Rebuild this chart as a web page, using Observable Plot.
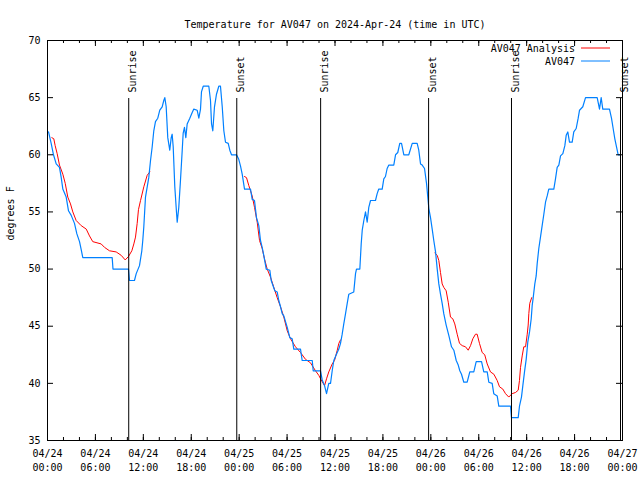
<!DOCTYPE html>
<html>
<head>
<meta charset="utf-8">
<script src="https://cdn.jsdelivr.net/npm/d3@7"></script>
<script src="https://cdn.jsdelivr.net/npm/@observablehq/plot@0.6"></script>
<style>
  body { margin: 0; background: #fff; }
</style>
</head>
<body>
<div id="chart"></div>
<script>
const title = "Temperature for AV047 on 2024-Apr-24 (time in UTC)";
const yLabel = "degrees F";
const startISO = "2024-04-24T00:00:00Z";
const spanHours = 72;
const yTicks = [35, 40, 45, 50, 55, 60, 65, 70];
const xMajorStepHours = 6;
const xMinorStepHours = 2;
const seriesNames = ["AV047 Analysis", "AV047"];
const seriesColors = ["#ff0000", "#0080ff"];

// Sun events: [hours after start, label]
const sunEvents = [
  [10.17, "Sunrise"], [23.70, "Sunset"],
  [34.20, "Sunrise"], [47.72, "Sunset"],
  [58.10, "Sunrise"], [71.75, "Sunset"]
];

// AV047 observations: [hours after start, °F]
const obs = [
  [0.13,62],[0.46,61],[0.75,60],[1.09,59.2],[1.50,58.9],[1.72,58],[1.92,57],[2.34,56.3],[2.63,55.1],[2.97,54.7],
  [3.38,54],[3.67,53.1],[4.01,52.4],[4.22,51.7],[4.42,51],[8.10,51],[8.20,50],[10.14,50],[10.27,49],[10.89,49],
  [11.11,49.6],[11.52,50.3],[11.81,51.6],[11.93,52.5],[12.06,53.7],[12.27,56.3],[12.68,58],[12.90,59.5],[13.11,60.7],[13.31,62.1],
  [13.52,62.9],[13.81,63.2],[14.06,63.9],[14.36,64.2],[14.56,64.75],[14.69,65],[14.86,64.2],[15.06,61.5],[15.31,60.4],[15.49,61.5],
  [15.61,61.8],[15.74,60.7],[15.94,57.2],[16.15,55],[16.24,54.1],[16.44,55.4],[16.65,57.75],[16.87,60.4],[16.99,61.9],[17.15,62.4],
  [17.32,61.5],[17.49,62.7],[17.82,63.2],[18.12,63.7],[18.32,64],[18.74,63.9],[18.95,63.2],[19.16,64],[19.28,65.5],[19.50,66],
  [20.20,66],[20.41,64.75],[20.54,62.7],[20.70,62.1],[20.91,64.2],[21.16,65.3],[21.45,66],[21.66,66],[21.88,64.2],[22.08,62.1],
  [22.29,61.1],[22.63,61],[22.83,60.4],[23.04,60],[23.67,60],[23.95,59.6],[24.17,59],[24.38,58.3],[24.67,57],[25.42,57],
  [25.63,56.1],[25.92,56],[26.17,54.5],[26.46,53.8],[26.67,52.5],[26.88,51.9],[27.08,51.2],[27.39,50],[27.84,49.9],[28.01,49],
  [28.46,48.1],[28.76,48],[28.96,47.25],[29.18,46.7],[29.39,46.1],[29.59,45.9],[30.02,44.9],[30.34,44],[30.64,43.9],[30.84,43],
  [31.68,43],[31.89,42],[33.15,42],[33.27,41.1],[34.18,41.1],[34.40,40.3],[34.69,39.8],[34.94,39.1],[35.22,40],[35.44,40],
  [35.65,41.1],[35.85,42],[36.28,42.7],[36.48,43],[36.69,43.5],[36.90,44.3],[37.10,45.2],[37.32,46.1],[37.53,47],[37.73,47.8],
  [38.35,48],[38.57,49.6],[38.69,50],[39.11,50],[39.28,52.2],[39.41,53.4],[39.61,54.25],[39.82,55],[40.03,54.1],[40.23,55.4],
  [40.45,56],[41.07,56],[41.28,56.6],[41.48,57],[41.91,57],[42.11,57.9],[42.32,58.1],[42.53,58.8],[42.74,59.1],[43.36,59.1],
  [43.58,60],[43.86,60.2],[44.11,61],[44.33,61],[44.62,60],[45.24,60],[45.67,61],[46.29,61],[46.49,60.4],[46.71,59.2],
  [46.92,59.1],[47.21,58.8],[47.46,57.5],[47.62,56.3],[47.75,55.3],[47.96,54.5],[48.17,53.5],[48.37,52.5],[48.59,51.5],[48.80,50],
  [49.00,48.7],[49.21,47.8],[49.42,47],[49.62,46.1],[49.92,45.1],[50.25,44.2],[50.59,43.2],[50.88,42.9],[51.18,42],[51.43,41.6],
  [51.63,41.1],[51.84,40.8],[52.13,40.1],[52.55,40.1],[52.88,41],[53.38,41],[53.68,41.9],[54.35,41.9],[54.63,41],[55.06,41],
  [55.26,40.1],[55.68,40],[55.88,39.1],[56.31,38.9],[56.51,38],[57.98,38],[58.10,37],[58.94,37],[59.10,38],[59.35,38.8],
  [59.52,39.8],[59.73,41],[59.94,42.1],[60.14,43.6],[60.36,44.5],[60.57,45.65],[60.69,46.8],[60.82,47.5],[61.02,48.7],[61.19,49.4],
  [61.32,50.5],[61.52,51.8],[61.73,52.8],[61.94,53.8],[62.15,54.8],[62.36,55.85],[62.57,56.4],[62.77,57],[63.40,57],[63.61,57.9],
  [63.82,58.9],[64.03,59.1],[64.24,59.9],[64.53,60.1],[64.78,60.8],[64.95,61.7],[65.15,62],[65.36,61.1],[65.70,61.1],[65.90,62],
  [66.20,62.3],[66.45,63.2],[66.62,63.9],[67.03,64.2],[67.37,65],[68.83,65],[69.12,64],[69.33,65],[69.53,64],[70.37,64],
  [70.62,63.2],[70.83,62.3],[71.04,61.4],[71.25,60.7],[71.46,60],[71.75,60]
];

// AV047 Analysis, three separate runs: [hours after start, °F]
const analysisA = [
  [0.54,61.5],[0.79,61.4],[0.96,60.8],[1.21,60.1],[1.50,59.1],[1.92,58.3],[2.22,57.5],[2.54,56.3],[2.88,55.7],[3.17,55],
  [3.59,54.25],[4.22,53.8],[4.85,53.5],[5.26,52.9],[5.67,52.4],[6.72,52.2],[7.14,51.9],[7.76,51.6],[8.60,51.5],[9.23,51.2],
  [9.73,50.8],[10.14,51.1],[10.56,51.6],[10.81,52.2],[11.02,52.8],[11.23,54],[11.39,55.2],[11.65,56],[12.06,57.2],[12.48,58.2],[12.81,58.5]
];
const analysisB = [
  [24.67,58.1],[24.92,58],[25.21,57.3],[25.63,56.4],[25.92,55.4],[26.26,54.1],[26.55,52.5],[26.88,51.8],[27.17,50.9],[27.51,50],
  [27.92,49.3],[28.34,48.4],[28.76,47.5],[29.18,46.7],[29.59,45.8],[30.02,44.6],[30.43,43.9],[31.05,43.2],[31.68,42.7],[32.31,42.1],
  [32.93,41.8],[33.56,41.1],[33.97,40.7],[34.27,40.3],[34.69,39.8],[34.94,40.4],[35.22,41],[35.65,41.7],[35.94,42],[36.28,42.9],
  [36.48,43.5],[36.69,43.8]
];
const analysisC = [
  [48.50,51.4],[48.80,51.2],[49.00,50.75],[49.21,49.7],[49.42,48.7],[49.62,48.4],[49.92,48.1],[50.18,47.1],[50.46,45.8],[50.75,45.65],
  [51.00,45.2],[51.30,44.3],[51.59,43.5],[51.93,43.3],[52.34,43.2],[52.68,42.9],[52.97,43.3],[53.26,43.9],[53.59,44.3],[53.80,44.3],
  [54.09,43.5],[54.43,42.7],[54.75,42.5],[55.06,41.7],[55.47,41],[55.89,40.8],[56.31,40.25],[56.60,39.7],[57.01,39.5],[57.35,39.1],
  [57.76,38.8],[58.18,39.1],[58.60,39.2],[58.94,39.4],[59.10,40.25],[59.23,41.4],[59.44,42.4],[59.64,43.2],[59.86,43.2],[60.07,44.3],
  [60.19,45.1],[60.27,46.1],[60.39,47],[60.63,47.5]
];

const t0 = new Date(startISO).getTime();
const toDate = h => new Date(t0 + h * 3600e3);

const obsData = obs.map(([h, v]) => ({date: toDate(h), temp: v}));
const anaData = [analysisA, analysisB, analysisC].flatMap((seg, i) =>
  seg.map(([h, v]) => ({date: toDate(h), temp: v, seg: i})));
const sunData = sunEvents.map(([h, label]) => ({date: toDate(h), label}));
const xMajor = d3.range(0, spanHours + 1, xMajorStepHours).map(toDate);
const xMinor = d3.range(0, spanHours + 1, xMinorStepHours).map(toDate);
const fmt = d3.utcFormat("%m/%d\n%H:%M");

const W = 640, H = 480, mL = 47, mR = 18, mT = 40, mB = 40;
const fw = W - mL - mR, fh = H - mT - mB;
const font = "'DejaVu Sans Mono', monospace";

const chart = Plot.plot({
  width: W, height: H,
  marginLeft: mL, marginRight: mR, marginTop: mT, marginBottom: mB,
  style: {fontFamily: font, fontSize: "10px", background: "#fff", color: "#000", overflow: "visible"},
  x: {type: "utc", domain: [toDate(0), toDate(spanHours)]},
  y: {domain: [35, 70]},
  marks: [
    Plot.line(anaData, {x: "date", y: "temp", z: "seg", stroke: seriesColors[0], strokeWidth: 1}),
    Plot.line(obsData, {x: "date", y: "temp", stroke: seriesColors[1], strokeWidth: 1.2}),
    Plot.ruleX(sunData, {x: "date", stroke: "#000", strokeWidth: 1, insetTop: 58}),
    Plot.text(sunData, {x: "date", text: "label", frameAnchor: "top", dy: 52, rotate: -90, textAnchor: "start", fill: "#000"}),
    // ticks (inward, mirrored)
    Plot.ruleX(xMinor, {stroke: "#000", insetTop: fh - 3}),
    Plot.ruleX(xMinor, {stroke: "#000", insetBottom: fh - 3}),
    Plot.ruleX(xMajor, {stroke: "#000", insetTop: fh - 6}),
    Plot.ruleX(xMajor, {stroke: "#000", insetBottom: fh - 6}),
    Plot.ruleY(yTicks, {stroke: "#000", insetRight: fw - 6}),
    Plot.ruleY(yTicks, {stroke: "#000", insetLeft: fw - 6}),
    Plot.frame({stroke: "#000", strokeWidth: 1}),
    Plot.axisX(xMajor, {anchor: "bottom", tickSize: 0, tickPadding: 7, tickFormat: fmt, lineHeight: 1.35, label: null, fill: "#000"}),
    Plot.axisY(yTicks, {anchor: "left", tickSize: 0, tickPadding: 7, label: null, fill: "#000"}),
    Plot.text([yLabel], {frameAnchor: "left", dx: -37, rotate: -90, fill: "#000"}),
    Plot.text([title], {frameAnchor: "top", dy: -20, fill: "#000"})
  ]
});

// legend (top-right, inside the plot frame)
const svg = d3.select(chart);
const leg = svg.append("g").attr("font-family", font).attr("font-size", 10);
seriesNames.forEach((name, i) => {
  const y = 49 + i * 13;
  leg.append("text").attr("x", 575).attr("y", y).attr("text-anchor", "end")
    .attr("dominant-baseline", "middle").attr("fill", "#000").text(name);
  leg.append("line").attr("x1", 581).attr("x2", 610).attr("y1", y - 1).attr("y2", y - 1)
    .attr("stroke", seriesColors[i]).attr("stroke-width", 1);
});

document.getElementById("chart").appendChild(chart);
</script>
</body>
</html>
